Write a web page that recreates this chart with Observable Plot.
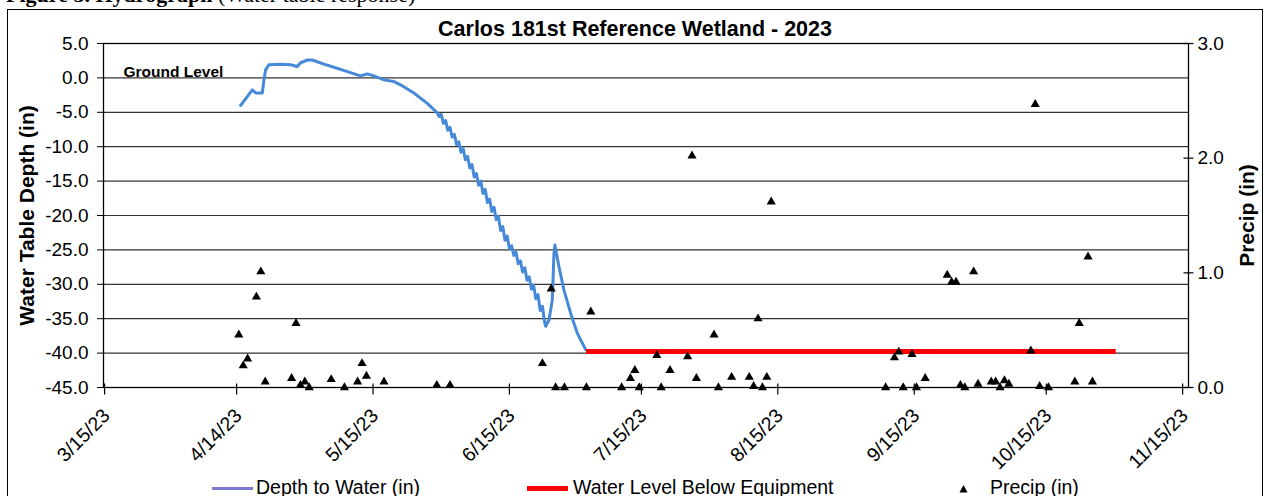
<!DOCTYPE html>
<html><head><meta charset="utf-8">
<script src="https://cdn.jsdelivr.net/npm/d3@7"></script>
<script src="https://cdn.jsdelivr.net/npm/@observablehq/plot@0.6"></script>
<style>
html,body{margin:0;padding:0;background:#fff;}
#wrap{position:relative;width:1265px;height:496px;overflow:hidden;background:#fff;font-family:"Liberation Sans",Arial,sans-serif;color:#000;}
#fig{position:absolute;left:6px;top:-18px;font:bold 22px "Liberation Serif","Times New Roman",serif;white-space:nowrap;}
#fig span{font-weight:normal;}
#border{position:absolute;left:7px;top:9px;width:1254px;height:600px;border:1px solid #000;}
#chart{position:absolute;left:0;top:0;}
.leg{position:absolute;top:477px;font-size:19.5px;line-height:20px;white-space:nowrap;}
.sw{position:absolute;}
</style></head>
<body>
<div id="wrap">
 <div id="fig">Figure 5. Hydrograph <span>(Water table response)</span></div>
 <div id="border"></div>
 <div id="chart"></div>
 <div class="sw" style="left:212px;top:487px;width:41px;height:3px;background:#7b7bd4"></div>
 <div class="leg" style="left:256px">Depth to Water (in)</div>
 <div class="sw" style="left:527px;top:486px;width:41px;height:5px;background:#ff0000"></div>
 <div class="leg" style="left:573px">Water Level Below Equipment</div>
 <svg class="sw" style="left:959px;top:484px" width="10" height="10"><path d="M4.5,1 L8.5,8.5 L0.5,8.5 Z" fill="#000"/></svg>
 <div class="leg" style="left:990px">Precip (in)</div>
</div>
<script>
// ---- data ----
const chartTitle = "Carlos 181st Reference Wetland - 2023";
const yLabel = "Water Table Depth (in)";
const y2Label = "Precip (in)";
const groundLabel = "Ground Level";
const groundLevel = 0;

const xDomainDates = ["2023-03-14 18", "2023-11-16 08"];
const yDomain = [-45, 5];
const precipDomain = [0, 3];
const yTicks = [5, 0, -5, -10, -15, -20, -25, -30, -35, -40, -45];
const precipTicks = [0, 1, 2, 3];
const xTickDates = ["2023-03-15","2023-04-14","2023-05-15","2023-06-15","2023-07-15","2023-08-15","2023-09-15","2023-10-15","2023-11-15"];

const depthDates = [
 "2023-04-14 22","2023-04-17 14","2023-04-18 08","2023-04-19 20","2023-04-20 05","2023-04-20 14","2023-04-21 08",
 "2023-04-24 00","2023-04-26 06","2023-04-27 19","2023-04-28 13","2023-04-30 02","2023-05-01 05","2023-05-03 20",
 "2023-05-06 03","2023-05-09 04","2023-05-12 04","2023-05-13 17","2023-05-15 05","2023-05-17 12","2023-05-19 18",
 "2023-05-21 06","2023-05-24 07","2023-05-27 08","2023-05-29 15",
 "2023-05-30 00","2023-05-30 12","2023-05-31 00","2023-05-31 12","2023-06-01 00","2023-06-01 12",
 "2023-06-02 00","2023-06-02 12","2023-06-03 00","2023-06-03 12","2023-06-04 00","2023-06-04 12",
 "2023-06-05 00","2023-06-05 12","2023-06-06 00","2023-06-06 12","2023-06-07 00","2023-06-07 12",
 "2023-06-08 00","2023-06-08 12","2023-06-09 00","2023-06-09 12","2023-06-10 00","2023-06-10 12",
 "2023-06-11 00","2023-06-11 12","2023-06-12 00","2023-06-12 12","2023-06-13 00","2023-06-13 12",
 "2023-06-14 00","2023-06-14 12","2023-06-15 00","2023-06-15 12","2023-06-16 00","2023-06-16 12",
 "2023-06-17 00","2023-06-17 12","2023-06-18 00","2023-06-18 12","2023-06-19 00","2023-06-19 12",
 "2023-06-20 00","2023-06-20 12","2023-06-21 00","2023-06-21 12","2023-06-22 00","2023-06-22 12",
 "2023-06-23 00","2023-06-23 06","2023-06-24 00","2023-06-24 18","2023-06-25 03","2023-06-25 08",
 "2023-06-26 06","2023-06-27 09","2023-06-28 22","2023-06-30 10","2023-07-02 08"
];
const depthValues = [
 -4.0,-1.74,-2.2,-2.2,-0.3,1.16,1.9,
 2.0,1.9,1.65,2.2,2.6,2.6,2.0,
 1.55,0.92,0.29,0.58,0.29,-0.29,-0.53,
 -1.0,-2.2,-3.7,-5.1,
 -5.6,-5.3,-6.6,-6.2,-7.6,-7.2,
 -8.6,-8.2,-9.7,-9.3,-10.8,-10.3,
 -11.9,-11.4,-13.1,-12.6,-14.4,-13.9,
 -15.6,-15.0,-16.8,-16.2,-18.1,-17.6,
 -19.4,-18.8,-20.6,-20.1,-22.2,-21.6,
 -23.6,-23.0,-24.8,-24.4,-25.8,-25.3,
 -27.0,-26.6,-28.2,-27.6,-29.4,-28.9,
 -30.7,-30.1,-32.1,-31.5,-33.8,-33.2,
 -35.5,-36.1,-35.2,-32.3,-25.5,-24.3,
 -27.4,-30.8,-34.2,-37.1,-39.5
];

const equipDates = ["2023-07-02 10", "2023-10-30 19"];
const equipValues = [-39.75, -39.75];

const precipDates = [
 "2023-04-14","2023-04-15","2023-04-16","2023-04-18","2023-04-19","2023-04-20",
 "2023-04-26","2023-04-27","2023-04-28","2023-04-29","2023-04-30",
 "2023-05-05","2023-05-08","2023-05-11","2023-05-12","2023-05-13","2023-05-17","2023-05-29",
 "2023-06-01","2023-06-22","2023-06-24","2023-06-25","2023-06-27",
 "2023-07-02","2023-07-03","2023-07-10","2023-07-12","2023-07-13","2023-07-14",
 "2023-07-18","2023-07-19","2023-07-21","2023-07-25","2023-07-26","2023-07-27",
 "2023-07-31","2023-08-01","2023-08-04","2023-08-08","2023-08-09","2023-08-10","2023-08-11","2023-08-12","2023-08-13",
 "2023-09-08","2023-09-10","2023-09-11","2023-09-12","2023-09-14","2023-09-15","2023-09-17",
 "2023-09-22","2023-09-23","2023-09-24","2023-09-25","2023-09-26","2023-09-28","2023-09-29",
 "2023-10-02","2023-10-03","2023-10-04","2023-10-05","2023-10-06",
 "2023-10-11","2023-10-12","2023-10-13","2023-10-15","2023-10-21","2023-10-22","2023-10-24","2023-10-25"
];
const precipValues = [
 0.46,0.19,0.25,0.79,1.01,0.05,
 0.08,0.56,0.02,0.05,0.00,
 0.07,0.00,0.05,0.21,0.10,0.05,0.02,
 0.02,0.21,0.86,0.00,0.00,
 0.00,0.66,0.00,0.08,0.15,0.00,
 0.28,0.00,0.15,0.27,2.02,0.08,
 0.46,0.00,0.09,0.09,0.01,0.60,0.00,0.09,1.62,
 0.00,0.26,0.31,0.00,0.29,0.00,0.08,
 0.98,0.92,0.92,0.02,0.00,1.01,0.03,
 0.05,0.05,0.00,0.06,0.03,
 0.32,2.47,0.01,0.00,0.05,0.56,1.14,0.05
];

// ---- build ----
const parseDay = d3.timeParse("%Y-%m-%d");
const parseHour = d3.timeParse("%Y-%m-%d %H");
const fmt = d3.timeFormat("%-m/%-d/%y");
const toDepthAxis = p => yDomain[0] + p * (yDomain[1] - yDomain[0]) / precipDomain[1];
const fromDepthAxis = y => (y - yDomain[0]) * precipDomain[1] / (yDomain[1] - yDomain[0]);

const depth = depthDates.map((d, i) => ({date: parseHour(d), value: depthValues[i]}));
const equip = equipDates.map((d, i) => ({date: parseHour(d), value: equipValues[i]}));
const precip = precipDates.map((d, i) => ({date: d3.timeHour.offset(parseDay(d), 12), value: precipValues[i]}));
const xTicks = xTickDates.map(parseDay);

const crossV = {draw(ctx) { ctx.moveTo(0, -4); ctx.lineTo(0, 7); }};
const crossH = {draw(ctx) { ctx.moveTo(-5, 0); ctx.lineTo(5, 0); }};

const chart = Plot.plot({
  width: 1265, height: 496,
  marginLeft: 103, marginRight: 77, marginTop: 43, marginBottom: 109,
  style: {fontFamily: "'Liberation Sans', Arial, sans-serif", fontSize: "19px", color: "#000", background: "transparent", overflow: "visible"},
  x: {type: "time", domain: xDomainDates.map(parseHour), axis: null},
  y: {domain: yDomain, axis: null},
  marks: [
    Plot.ruleY(yTicks, {stroke: "#333", strokeWidth: 1.2}),
    Plot.frame({stroke: "#000", strokeWidth: 1.3}),
    Plot.line(depth, {x: "date", y: "value", stroke: "#4689d9", strokeWidth: 3}),
    Plot.line(equip, {x: "date", y: "value", stroke: "#ff0000", strokeWidth: 5, strokeLinecap: "butt"}),
    Plot.dot(precip, {x: "date", y: d => toDepthAxis(d.value), symbol: "triangle", r: 3.4, fill: "#000", stroke: "none"}),
    Plot.axisY({anchor: "left", ticks: yTicks, tickFormat: d => d.toFixed(1), tickSize: 6, tickPadding: 9, label: null}),
    Plot.axisY({anchor: "right", ticks: precipTicks.map(toDepthAxis), tickFormat: d => fromDepthAxis(d).toFixed(1), tickSize: 0, tickPadding: 9, label: null}),
    Plot.dot(precipTicks, {y: toDepthAxis, frameAnchor: "right", symbol: crossH, stroke: "#000", fill: "none", strokeWidth: 1.2}),
    Plot.dot(xTicks, {x: d => d, frameAnchor: "bottom", symbol: crossV, stroke: "#000", fill: "none", strokeWidth: 1.2}),
    Plot.text(xTicks, {x: d => d, frameAnchor: "bottom", text: d => fmt(d), rotate: -45, textAnchor: "end", lineAnchor: "middle", dx: 2, dy: 25, fontSize: 19.5}),
    Plot.text([{label: groundLabel, y: groundLevel}], {y: "y", text: "label", frameAnchor: "left", dx: 20, dy: -5.5, textAnchor: "start", lineAnchor: "middle", fontWeight: "bold", fontSize: 15.5}),
    Plot.text([chartTitle], {frameAnchor: "top", dx: -11, dy: -14, textAnchor: "middle", lineAnchor: "middle", fontWeight: "bold", fontSize: 21.5}),
    Plot.text([yLabel], {frameAnchor: "left", dx: -76, rotate: -90, textAnchor: "middle", lineAnchor: "middle", fontWeight: "bold", fontSize: 21}),
    Plot.text([y2Label], {frameAnchor: "right", dx: 59, rotate: -90, textAnchor: "middle", lineAnchor: "middle", fontWeight: "bold", fontSize: 21})
  ]
});
document.getElementById("chart").appendChild(chart);
</script>
</body></html>
